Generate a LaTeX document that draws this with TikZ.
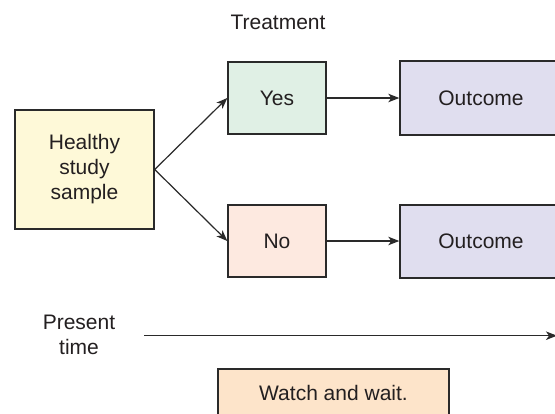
\documentclass[tikz,border=0pt]{standalone}
\usepackage{fontspec}
\setmainfont{Liberation Sans}
\usetikzlibrary{arrows.meta}
\definecolor{linec}{HTML}{2A2A2A}
\definecolor{textc}{HTML}{231F20}
\definecolor{healthyc}{HTML}{FEF9D8}
\definecolor{yesc}{HTML}{E0F0E5}
\definecolor{noc}{HTML}{FDE9E0}
\definecolor{outc}{HTML}{E0DEEF}
\definecolor{watchc}{HTML}{FDE4CA}
\begin{document}
\begin{tikzpicture}[x=1pt,y=-1pt,
  box/.style={draw=linec, line width=1.4pt, inner sep=0pt, align=center,
    font=\fontsize{21}{25}\selectfont, text=textc},
  lbl/.style={inner sep=0pt, align=center, font=\fontsize{21}{25}\selectfont, text=textc},
  arr/.style={-{Stealth[length=11pt,width=8.5pt,inset=3pt]}, line width=1.2pt, draw=linec}]
\useasboundingbox (0,0) rectangle (555,413);
\fill[white] (0,0) rectangle (555,413);
\clip (0,0) rectangle (555,413);
\node[box, fill=healthyc, minimum width=139pt, minimum height=119pt] (h) at (84.5,169.5) {Healthy\\study\\sample};
\node[box, fill=yesc, minimum width=98pt, minimum height=72pt] (yes) at (277,98) {Yes};
\node[box, fill=noc, minimum width=98pt, minimum height=72pt] (no) at (277,241) {No};
\node[box, fill=outc, minimum width=162pt, minimum height=74pt] (o1) at (481,98) {Outcome};
\node[box, fill=outc, minimum width=162pt, minimum height=73pt] (o2) at (481,241.5) {Outcome};
\node[box, fill=watchc, minimum width=231pt, minimum height=48pt] (w) at (333.5,393) {Watch and wait.};
\node[lbl, anchor=base] (t) at (278,29) {Treatment};
\node[lbl] (p) at (79,335) {Present\\time};
\coordinate (ts) at (144,335.7);
\coordinate (te) at (557,335.7);
\draw[arr] (h.east) -- (yes.west);
\draw[arr] (h.east) -- (no.west);
\draw[arr] (yes.east) -- (yes.east -| o1.west);
\draw[arr] (no.east) -- (no.east -| o2.west);
\draw[arr] (ts) -- (te);
\end{tikzpicture}
\end{document}
